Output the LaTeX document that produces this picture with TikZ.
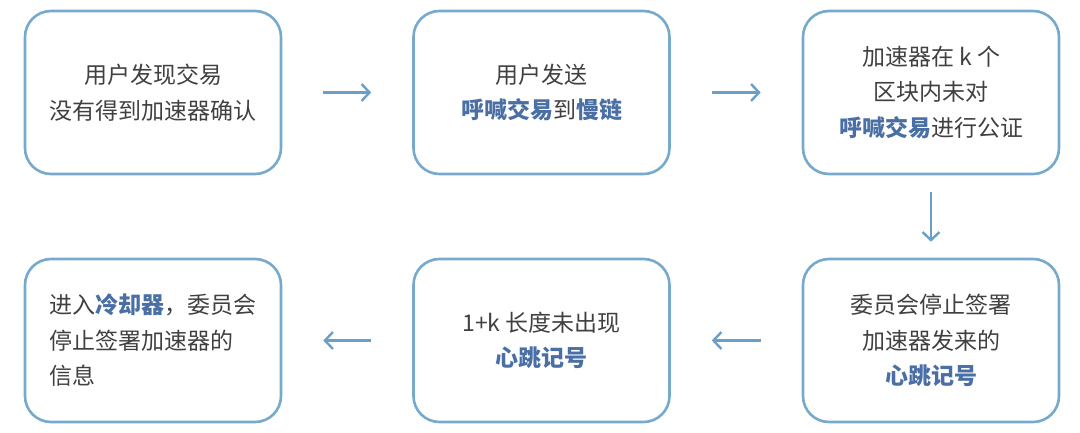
\documentclass[tikz,border=0pt]{standalone}
\usepackage{fontspec}
\newfontfamily\cjk{Noto Sans CJK SC}
\usetikzlibrary{arrows.meta}
\definecolor{boxc}{HTML}{76A9CB}
\definecolor{arrc}{HTML}{6A9FC8}
\definecolor{hlc}{HTML}{4A6FA5}
\definecolor{txtc}{HTML}{404040}
\newcommand\hlt[1]{{\color{hlc}\bfseries #1}}
\begin{document}
\begin{tikzpicture}[x=1pt,y=-1pt,
  stepbox/.style={draw=boxc, line width=2.6pt, rounded corners=26pt,
    minimum width=256pt, minimum height=163pt, align=center, text=txtc,
    font=\cjk\fontsize{23pt}{35.5pt}\selectfont, inner sep=0pt},
  flow/.style={draw=arrc, line width=2.4pt, -{Straight Barb[length=8pt,width=17pt,line width=2.4pt]}, shorten <=41pt, shorten >=41pt}]
\useasboundingbox (0,0) rectangle (1080,433);
\node[stepbox] (b1) at (153,92.5) {用户发现交易\\没有得到加速器确认};
\node[stepbox] (b2) at (541.5,92.5) {用户发送\\\hlt{呼喊交易}到\hlt{慢链}};
\node[stepbox] (b3) at (931,92.5) {加速器在 k 个\\区块内未对\\\hlt{呼喊交易}进行公证};
\node[stepbox] (b4) at (931,340.5) {委员会停止签署\\加速器发来的\\\hlt{心跳记号}};
\node[stepbox] (b5) at (541.5,340.5) {1+k 长度未出现\\\hlt{心跳记号}};
\node[stepbox, align=left] (b6) at (153,340.5) {进入\hlt{冷却器}，委员会\\停止签署加速器的\\信息};
\draw[flow] (b1) -- (b2);
\draw[flow] (b2) -- (b3);
\draw[flow, shorten <=17pt, shorten >=16pt] (b3) -- (b4);
\draw[flow] (b4) -- (b5);
\draw[flow] (b5) -- (b6);
\end{tikzpicture}
\end{document}
